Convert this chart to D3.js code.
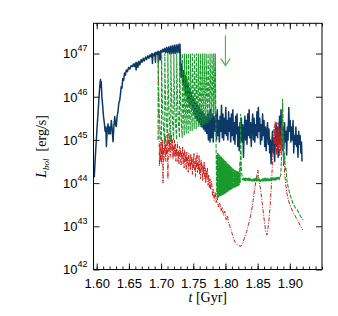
<!DOCTYPE html>
<html>
<head>
<meta charset="utf-8">
<script src="https://cdn.jsdelivr.net/npm/d3@7"></script>
<style>
  body { margin: 0; background: #fff; }
  svg { display: block; }
  .tick-label { font-family: "Liberation Sans", Arial, sans-serif; font-size: 13px; fill: #000; }
  .title { font-family: "Liberation Serif", "Times New Roman", serif; font-size: 14px; fill: #000; }
</style>
</head>
<body>
<div id="chart"></div>
<script>
// values are [t in Gyr, log10 L_bol in erg/s]
const blueData = [
  [1.5950,44.35],[1.5962,44.15],[1.5978,44.6],[1.5994,45.0],[1.6008,45.35],[1.6022,45.65],[1.6036,46.0],[1.6048,46.25],
  [1.6058,46.4],[1.6064,46.22],[1.6070,46.35],[1.6080,46.0],[1.6092,45.8],[1.6105,45.55],[1.6118,45.4],[1.6130,45.2],
  [1.6142,45.3],[1.6150,44.85],[1.6162,45.2],[1.6175,45.37],[1.6188,45.14],[1.6200,45.3],[1.6212,45.14],[1.6227,45.45],
  [1.6240,45.25],[1.6253,44.96],[1.6266,45.3],[1.6280,45.54],[1.6292,45.35],[1.6304,45.31],[1.6317,45.55],[1.6330,45.65],
  [1.6343,45.85],[1.6357,45.92],[1.6368,46.05],[1.6380,46.23],[1.6392,46.2],[1.6405,46.42],[1.6418,46.38],[1.6432,46.55],
  [1.6446,46.5],[1.6460,46.62],[1.6478,46.58],[1.6495,46.68],[1.6515,46.64],[1.6535,46.72],[1.6555,46.7],[1.6570,46.76],
  [1.6585,46.70],[1.6600,46.78],[1.6612,46.62],[1.6625,46.8],[1.6640,46.68],[1.6655,46.82],[1.6670,46.74],[1.6690,46.86],
  [1.6705,46.8],[1.6725,46.89],[1.6740,46.83],[1.6760,46.92],[1.6775,46.86],[1.6795,46.95],[1.6810,46.89],[1.6830,46.97],
  [1.6845,46.92],[1.6858,47.0],[1.6866,46.77],[1.6874,46.99],[1.6890,46.95],[1.6905,47.02],[1.6912,46.8],[1.6920,47.03],
  [1.6940,46.98],[1.6952,47.05],[1.6958,46.78],[1.6966,47.05],[1.6980,47.0],[1.6986,46.85],[1.6995,47.07],[1.7010,47.02],
  [1.7025,47.1],[1.7040,47.04],[1.7055,47.12],[1.7070,47.02],[1.7085,47.14],[1.7100,47.02],[1.7115,47.15],[1.7130,47.0],
  [1.7145,47.17],[1.7160,47.0],[1.7175,47.18],[1.7190,47.0],[1.7205,47.19],[1.7220,47.0],[1.7235,47.2],[1.7250,47.02],
  [1.7265,47.21],[1.7280,47.02],[1.7293,47.22],
  [1.7300,46.95],[1.7310,46.45],[1.7322,46.75],[1.7335,46.3],[1.7348,46.6],[1.7360,46.15],[1.7372,46.5],[1.7385,46.05],
  [1.7398,46.4],[1.7410,45.95],[1.7422,46.3],[1.7435,45.85],[1.7448,46.2],[1.7460,45.8],[1.7472,46.1],[1.7485,45.7],
  [1.7498,46.0],[1.7510,45.6],[1.7522,45.95],[1.7535,45.5],[1.7548,45.85],[1.7560,45.45],[1.7572,45.8],[1.7585,45.4],
  [1.7598,45.75],[1.7610,45.35],[1.7622,45.7],[1.7635,45.3],[1.7648,45.65],[1.7660,45.25],[1.7672,45.6],[1.7685,45.2],
  [1.7698,45.55],[1.7710,45.15],[1.7722,45.6],[1.7735,45.0],[1.7748,45.65],[1.7760,44.95],[1.7772,45.7],[1.7785,45.05],
  [1.7798,45.6],[1.7810,44.95],[1.7822,45.55],
  [1.7840,45.2],[1.7851,45.6],[1.7862,45.0],[1.7873,45.7],[1.7884,45.1],[1.7895,45.45],[1.7906,44.95],[1.7917,45.55],
  [1.7928,45.2],[1.7939,45.8],[1.7950,45.05],[1.7961,45.6],[1.7972,45.0],[1.7983,45.5],[1.7994,45.15],[1.8005,45.75],
  [1.8016,45.1],[1.8027,45.45],[1.8038,45.0],[1.8049,45.65],[1.8060,45.2],[1.8071,45.5],[1.8082,44.95],[1.8093,45.6],
  [1.8104,45.1],[1.8115,45.7],[1.8126,45.0],[1.8137,45.4],[1.8148,44.9],[1.8159,45.55],[1.8170,45.15],[1.8181,45.6],
  [1.8192,44.85],[1.8203,45.3],[1.8214,44.75],[1.8225,45.4],[1.8236,45.0],[1.8247,45.5],[1.8258,44.95],[1.8269,45.35],
  [1.8280,44.6],[1.8291,45.2],[1.8302,45.55],[1.8313,45.0],[1.8324,45.45],[1.8335,44.9],[1.8346,45.6],[1.8357,45.1],
  [1.8368,45.7],[1.8379,45.05],[1.8390,45.4],[1.8401,44.85],[1.8412,45.3],[1.8423,45.6],[1.8434,45.0],[1.8445,45.5],
  [1.8456,44.95],[1.8467,45.35],[1.8478,45.1],[1.8489,45.65],[1.8500,45.05],[1.8511,45.75],[1.8522,45.2],[1.8533,45.5],
  [1.8544,44.9],[1.8555,45.35],[1.8566,45.0],[1.8577,45.6],[1.8588,45.1],[1.8599,45.45],[1.8610,44.85],[1.8621,45.3],
  [1.8632,44.75],[1.8643,45.2],[1.8654,45.4],[1.8665,44.9],[1.8676,45.25],[1.8687,44.7],[1.8698,45.0],[1.8709,44.45],
  [1.8720,44.9],[1.8731,45.2],[1.8742,44.7],[1.8753,45.05],[1.8764,44.5],[1.8775,45.0],[1.8786,45.4],[1.8797,44.85],
  [1.8808,45.3],[1.8819,44.6],[1.8830,45.1],[1.8841,45.55],[1.8852,44.9],[1.8863,45.7],[1.8874,45.0],[1.8885,44.75],
  [1.8896,45.3],[1.8907,44.8],[1.8918,45.4],[1.8929,44.95],[1.8940,45.2],[1.8951,44.65],[1.8962,45.3],[1.8973,45.0],
  [1.8984,45.75],[1.8995,45.2],[1.9006,45.45],[1.9017,44.95],[1.9028,45.3],[1.9039,45.0],[1.9050,45.45],[1.9061,44.7],
  [1.9072,45.1],[1.9083,44.9],[1.9094,45.3],[1.9105,44.85],[1.9116,45.1],[1.9127,44.6],[1.9138,45.2],[1.9149,44.9],
  [1.9160,45.1],[1.9171,44.7],[1.9182,44.95],[1.9190,44.5]
];

const greenData = [
  [1.6953,45.0],[1.6955,46.95],[1.6960,46.3],[1.6970,45.7],[1.6985,45.2],[1.7006,44.9],
  [1.7008,46.98],[1.7013,46.35],[1.7023,45.75],[1.7038,45.25],[1.7056,44.92],
  [1.7058,47.0],[1.7063,46.4],[1.7073,45.8],[1.7088,45.3],[1.7103,44.95],
  [1.7105,47.0],[1.7110,46.4],[1.7120,45.8],[1.7134,45.3],[1.7150,44.95],
  [1.7152,47.0],[1.7157,46.45],[1.7167,45.85],[1.7180,45.35],[1.7196,45.0],
  [1.7198,47.0],[1.7203,46.45],[1.7212,45.85],[1.7225,45.35],[1.7241,45.0],
  [1.7243,47.0],[1.7248,46.5],[1.7257,45.9],[1.7270,45.4],[1.7286,45.05],
  [1.7288,47.0],[1.7293,46.5],[1.7302,45.9],[1.7314,45.4],[1.7328,45.05],
  [1.7330,47.0],[1.7335,46.5],[1.7343,45.9],[1.7353,45.4],[1.7360,45.1],
  [1.7362,47.0],[1.7367,46.55],[1.7374,46.0],[1.7383,45.5],[1.7391,45.15],
  [1.7393,47.0],[1.7398,46.55],[1.7405,46.0],[1.7414,45.5],[1.7422,45.15],
  [1.7424,47.0],[1.7429,46.55],[1.7436,46.0],[1.7445,45.5],[1.7453,45.2],
  [1.7455,47.0],[1.7460,46.55],[1.7467,46.0],[1.7476,45.55],[1.7484,45.2],
  [1.7486,47.0],[1.7491,46.6],[1.7498,46.05],[1.7507,45.6],[1.7515,45.25],
  [1.7517,47.0],[1.7522,46.6],[1.7529,46.05],[1.7538,45.6],[1.7546,45.25],
  [1.7548,47.0],[1.7553,46.6],[1.7560,46.1],[1.7569,45.65],[1.7577,45.3],
  [1.7579,47.0],[1.7584,46.6],[1.7591,46.1],[1.7600,45.65],[1.7608,45.3],
  [1.7610,47.0],[1.7615,46.65],[1.7622,46.15],[1.7631,45.7],[1.7638,45.35],
  [1.7640,47.0],[1.7645,46.65],[1.7652,46.15],[1.7661,45.7],[1.7668,45.35],
  [1.7670,47.0],[1.7675,46.65],[1.7682,46.2],[1.7691,45.75],[1.7698,45.4],
  [1.7700,47.0],[1.7705,46.65],[1.7712,46.2],[1.7721,45.75],[1.7728,45.4],
  [1.7730,47.0],[1.7735,46.7],[1.7742,46.25],[1.7751,45.8],[1.7758,45.45],
  [1.7760,47.0],[1.7765,46.7],[1.7772,46.25],[1.7781,45.8],[1.7788,45.5],
  [1.7790,47.0],[1.7795,46.7],[1.7802,46.3],[1.7810,45.85],[1.7816,45.55],
  [1.7818,47.0],[1.7823,46.7],[1.7830,46.3],[1.7837,45.9],[1.7840,45.6],
  [1.7842,47.0],[1.7846,46.4],[1.7850,45.6],[1.7855,44.8],[1.7860,44.1],[1.7866,43.72],
  [1.7870,44.65],[1.7875,43.68],[1.7880,44.7],[1.7885,43.66],[1.7890,44.68],[1.7895,43.68],[1.7900,44.66],[1.7905,43.7],
  [1.7910,44.65],[1.7915,43.69],[1.7920,44.63],[1.7925,43.7],[1.7930,44.62],[1.7935,43.71],[1.7940,44.6],[1.7945,43.72],
  [1.7950,44.58],[1.7955,43.72],[1.7960,44.57],[1.7965,43.73],[1.7970,44.55],[1.7975,43.74],[1.7980,44.54],[1.7985,43.75],
  [1.7990,44.52],[1.7995,43.76],[1.8000,44.51],[1.8005,43.77],[1.8010,44.5],[1.8015,43.78],[1.8020,44.48],[1.8025,43.79],
  [1.8030,44.46],[1.8035,43.8],[1.8040,44.45],[1.8045,43.81],[1.8050,44.43],[1.8055,43.82],[1.8060,44.42],[1.8065,43.83],
  [1.8070,44.4],[1.8075,43.84],[1.8080,44.39],[1.8085,43.85],[1.8090,44.37],[1.8095,43.86],[1.8100,44.36],[1.8105,43.87],
  [1.8110,44.34],[1.8115,43.88],[1.8120,44.33],[1.8125,43.88],[1.8130,44.32],[1.8135,43.89],[1.8140,44.31],[1.8145,43.9],
  [1.8150,44.3],[1.8155,43.9],[1.8160,44.29],[1.8165,43.91],[1.8170,44.28],[1.8175,43.92],[1.8180,44.28],[1.8185,43.92],
  [1.8190,44.27],[1.8195,43.93],[1.8200,44.27],[1.8205,43.94],[1.8210,44.26],[1.8215,43.95],
  [1.8224,44.5],[1.8230,44.0],[1.8236,45.6],[1.8240,44.9],[1.8246,44.4],[1.8255,44.2],
  [1.8262,44.13],[1.8270,44.06],[1.8278,44.13],[1.8285,44.06],[1.8293,44.12],[1.8300,44.05],[1.8308,44.12],[1.8315,44.05],
  [1.8323,44.12],[1.8330,44.05],[1.8338,44.11],[1.8345,44.04],[1.8353,44.12],[1.8360,44.05],[1.8368,44.12],[1.8375,44.05],
  [1.8383,44.12],[1.8390,44.05],[1.8398,44.11],[1.8405,44.04],[1.8413,44.11],[1.8420,44.04],[1.8428,44.11],[1.8435,44.04],
  [1.8443,44.11],[1.8450,44.04],[1.8458,44.11],[1.8465,44.04],[1.8473,44.12],[1.8480,44.04],[1.8488,44.11],[1.8495,44.04],
  [1.8505,44.18],[1.8512,44.05],[1.8520,44.11],[1.8527,44.04],[1.8535,44.1],[1.8542,44.03],[1.8550,44.1],[1.8557,44.04],
  [1.8565,44.11],[1.8572,44.04],[1.8580,44.11],[1.8587,44.04],[1.8595,44.11],[1.8602,44.04],[1.8610,44.12],[1.8617,44.04],
  [1.8625,44.12],[1.8632,44.05],[1.8640,44.11],[1.8647,44.05],[1.8655,44.12],[1.8662,44.05],[1.8670,44.12],[1.8677,44.05],
  [1.8685,44.12],[1.8692,44.05],[1.8700,44.13],[1.8707,44.05],[1.8715,44.13],[1.8722,44.06],[1.8730,44.13],[1.8737,44.06],
  [1.8745,44.13],[1.8752,44.06],[1.8760,44.13],[1.8767,44.06],[1.8775,44.14],[1.8782,44.06],[1.8790,44.14],[1.8797,44.07],
  [1.8805,44.14],[1.8812,44.07],[1.8820,44.14],[1.8827,44.08],[1.8835,44.14],[1.8842,44.1],
  [1.8860,44.2],[1.8872,44.6],[1.8880,45.3],[1.8888,45.95],[1.8894,45.2],[1.8900,44.6],[1.8905,45.0],
  [1.8912,44.5],[1.8920,44.7],[1.8928,44.3],[1.8940,44.35],[1.8950,44.15],[1.8960,44.0],[1.8976,43.9],[1.9000,43.75],
  [1.9028,43.62],[1.9060,43.5],[1.9090,43.42],[1.9115,43.38],[1.9150,43.28],[1.9180,43.2],[1.9208,43.15]
];

const redData = [
  [1.6955,46.96],[1.6962,46.0],[1.6968,45.2],[1.6975,44.4],[1.6982,44.9],[1.6990,44.5],[1.6998,44.95],
  [1.7005,44.45],[1.7012,44.9],[1.7018,44.6],[1.7024,45.0],[1.7030,44.0],[1.7038,44.8],[1.7045,44.55],[1.7052,45.05],
  [1.7058,44.7],[1.7065,45.1],[1.7072,44.5],[1.7080,44.9],[1.7086,44.65],[1.7094,45.12],[1.7100,44.8],[1.7106,44.1],
  [1.7113,44.9],[1.7120,45.15],[1.7127,44.75],[1.7134,45.1],[1.7141,44.6],[1.7148,45.0],[1.7155,44.85],[1.7162,45.12],
  [1.7170,44.7],[1.7177,45.0],[1.7185,44.55],[1.7192,44.85],[1.7200,44.65],[1.7208,45.0],[1.7215,44.6],[1.7223,44.9],
  [1.7231,44.5],[1.7238,44.8],[1.7246,44.62],[1.7254,44.95],[1.7262,44.5],[1.7270,44.75],[1.7278,44.45],[1.7286,44.85],
  [1.7294,44.6],[1.7302,44.8],[1.7310,44.4],[1.7318,44.7],[1.7326,44.55],[1.7334,44.85],[1.7342,44.45],[1.7350,44.7],
  [1.7358,44.35],[1.7366,44.78],[1.7374,44.5],[1.7382,44.65],[1.7390,44.3],[1.7398,44.72],[1.7406,44.45],[1.7414,44.6],
  [1.7422,44.25],[1.7430,44.7],[1.7438,44.4],[1.7446,44.55],[1.7454,44.3],[1.7462,44.68],[1.7470,44.42],[1.7478,44.6],
  [1.7486,44.2],[1.7494,44.55],[1.7502,44.35],[1.7510,44.7],[1.7518,44.3],[1.7526,44.5],[1.7534,44.15],[1.7542,44.6],
  [1.7550,44.35],[1.7558,44.7],[1.7566,44.25],[1.7574,44.5],[1.7582,44.3],[1.7590,44.65],[1.7598,44.2],[1.7606,44.45],
  [1.7614,44.1],[1.7622,44.55],[1.7630,44.3],[1.7638,44.45],[1.7646,44.05],[1.7654,44.4],[1.7662,44.2],[1.7670,44.5],
  [1.7678,44.1],[1.7686,44.35],[1.7694,44.0],[1.7702,44.3],[1.7710,44.1],[1.7720,44.35],[1.7730,43.95],[1.7740,44.2],
  [1.7750,43.9],[1.7760,44.1],[1.7770,43.85],[1.7780,44.05],[1.7790,43.95],[1.7800,43.7],[1.7810,43.85],[1.7825,43.6],
  [1.7840,43.8],[1.7855,43.55],[1.7870,43.7],[1.7890,43.45],[1.7910,43.55],[1.7930,43.35],[1.7950,43.45],[1.7970,43.25],
  [1.7990,43.35],[1.8010,43.15],[1.8030,43.25],[1.8045,43.1],[1.8070,43.0],
  [1.8100,42.85],[1.8130,42.7],[1.8150,42.63],[1.8180,42.58],[1.8210,42.55],[1.8240,42.54],[1.8260,42.58],
  [1.8285,42.68],[1.8310,42.8],[1.8330,42.88],[1.8360,43.05],[1.8390,43.25],[1.8410,43.4],[1.8430,43.6],[1.8450,43.82],
  [1.8470,44.02],[1.8490,44.2],[1.8505,44.3],[1.8515,44.15],[1.8530,44.0],[1.8550,43.8],[1.8570,43.55],[1.8590,43.3],
  [1.8610,43.05],[1.8630,42.85],[1.8645,42.8],[1.8660,42.95],[1.8680,43.2],[1.8695,43.5],[1.8710,43.85],[1.8722,44.2],
  [1.8735,44.6],[1.8745,44.95],[1.8755,45.3],[1.8762,44.9],[1.8770,45.42],[1.8778,44.8],[1.8786,45.35],[1.8794,44.65],
  [1.8802,45.2],[1.8810,44.7],[1.8818,45.4],[1.8826,44.75],[1.8834,45.25],[1.8842,44.62],[1.8850,45.1],[1.8858,44.7],
  [1.8866,45.3],[1.8874,44.9],[1.8882,45.5],[1.8888,45.8],[1.8895,45.0],[1.8902,44.4],[1.8910,44.6],[1.8920,44.2],
  [1.8935,44.0],[1.8950,43.8],[1.8975,43.62],[1.9000,43.5],[1.9030,43.4],[1.9053,43.31],[1.9080,43.25],[1.9105,43.18],
  [1.9130,43.12],[1.9160,43.02],[1.9199,42.92]
];

const xMajorTicks = [1.60, 1.65, 1.70, 1.75, 1.80, 1.85, 1.90];
const xMinorTicks = [1.60,1.61,1.62,1.63,1.64,1.65,1.66,1.67,1.68,1.69,1.70,1.71,1.72,1.73,1.74,1.75,
                     1.76,1.77,1.78,1.79,1.80,1.81,1.82,1.83,1.84,1.85,1.86,1.87,1.88,1.89,1.90,1.91,1.92,1.93,1.94,1.95];
const yDecades = [42, 43, 44, 45, 46, 47];
const arrowPos = [1.80, 47.42, 46.72]; // t, log top, log tip

const W = 338, H = 316;
const margin = { top: 23.3, right: 16, bottom: 46.5, left: 93.5 };
const width = W - margin.left - margin.right;
const height = H - margin.top - margin.bottom;

const svg = d3.select('#chart').append('svg')
  .attr('width', W).attr('height', H);

const g = svg.append('g')
  .attr('transform', `translate(${margin.left},${margin.top})`);

const x = d3.scaleLinear().domain([1.595, 1.95]).range([0, width]);
const y = d3.scaleLog().domain([1e42, Math.pow(10, 47.7)]).range([height, 0]);

g.append('clipPath').attr('id', 'clip')
  .append('rect').attr('width', width).attr('height', height);

const line = d3.line()
  .x(d => x(d[0]))
  .y(d => y(Math.pow(10, d[1])));

const plot = g.append('g').attr('clip-path', 'url(#clip)');

plot.append('path').datum(blueData)
  .attr('d', line).attr('fill', 'none')
  .attr('stroke', '#0c3966').attr('stroke-width', 1.5)
  .attr('stroke-linejoin', 'round');

plot.append('path').datum(redData)
  .attr('d', line).attr('fill', 'none')
  .attr('stroke', '#cc1f1a').attr('stroke-width', 1)
  .attr('stroke-dasharray', '4,1.5,1,1.5');

plot.append('path').datum(greenData)
  .attr('d', line).attr('fill', 'none')
  .attr('stroke', '#1a9a2c').attr('stroke-width', 1.1)
  .attr('stroke-dasharray', '4,1.5');

// arrow
const ax = x(arrowPos[0]);
const ay0 = y(Math.pow(10, arrowPos[1]));
const ay1 = y(Math.pow(10, arrowPos[2]));
g.append('line').attr('x1', ax).attr('x2', ax).attr('y1', ay0).attr('y2', ay1)
  .attr('stroke', '#55b35a').attr('stroke-width', 1.2);
g.append('path')
  .attr('d', `M${ax - 4.7},${ay1 - 7} L${ax},${ay1} L${ax + 4.7},${ay1 - 7}`)
  .attr('fill', 'none').attr('stroke', '#55b35a').attr('stroke-width', 1.2);

// axes: ticks drawn inward
function styleAxis(sel) {
  sel.select('.domain').remove();
  sel.selectAll('.tick line').attr('stroke', '#000').attr('stroke-width', 0.9);
}

g.append('g').attr('transform', `translate(0,${height})`)
  .call(d3.axisBottom(x).tickValues(xMinorTicks).tickSize(-3).tickFormat(''))
  .call(styleAxis);
const xAxisG = g.append('g').attr('transform', `translate(0,${height})`)
  .call(d3.axisBottom(x).tickValues(xMajorTicks).tickSize(-6).tickPadding(9).tickFormat(d3.format('.2f')))
  .call(styleAxis);
xAxisG.selectAll('text').attr('class', 'tick-label').attr('font-family', null).attr('font-size', null);

g.append('g')
  .call(d3.axisTop(x).tickValues(xMinorTicks).tickSize(-3).tickFormat(''))
  .call(styleAxis);
g.append('g')
  .call(d3.axisTop(x).tickValues(xMajorTicks).tickSize(-6).tickFormat(''))
  .call(styleAxis);

const yVals = yDecades.map(e => Math.pow(10, e));
g.append('g')
  .call(d3.axisLeft(y).tickValues(yVals).tickSize(-6).tickFormat(''))
  .call(styleAxis);
g.append('g').attr('transform', `translate(${width},0)`)
  .call(d3.axisRight(y).tickValues(yVals).tickSize(-6).tickFormat(''))
  .call(styleAxis);

// y tick labels with superscripts
const yLab = g.append('g').selectAll('text').data(yDecades).join('text')
  .attr('class', 'tick-label')
  .attr('text-anchor', 'end')
  .attr('x', -6)
  .attr('y', d => y(Math.pow(10, d)) + 4.8);
yLab.append('tspan').text('10');
yLab.append('tspan').attr('dy', -7).attr('font-size', 9).text(d => d);

// frame
g.append('rect').attr('width', width).attr('height', height)
  .attr('fill', 'none').attr('stroke', '#000').attr('stroke-width', 1);

// axis titles
const xt = svg.append('text').attr('class', 'title')
  .attr('x', margin.left + width / 2).attr('y', 302).attr('text-anchor', 'middle');
xt.append('tspan').attr('font-style', 'italic').text('t');
xt.append('tspan').text(' [Gyr]');

const yt = svg.append('text').attr('class', 'title')
  .attr('transform', `translate(46,${margin.top + height / 2}) rotate(-90)`)
  .attr('text-anchor', 'middle');
yt.append('tspan').attr('font-style', 'italic').text('L');
yt.append('tspan').attr('font-style', 'italic').attr('font-size', 9).attr('dy', 3).text('bol');
yt.append('tspan').attr('dy', -3).text('\u00a0\u00a0[erg/s]');
</script>
</body>
</html>
